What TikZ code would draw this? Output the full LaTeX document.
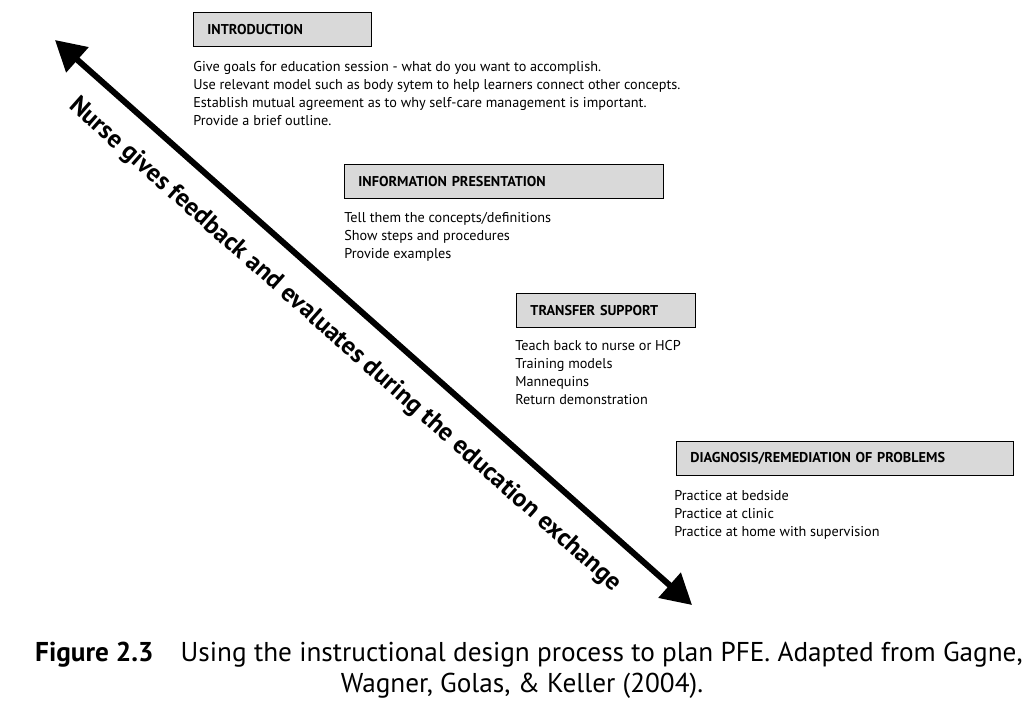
\documentclass[tikz,border=0pt]{standalone}
\usepackage{fontspec}
\setmainfont{PT Sans}
\usetikzlibrary{arrows.meta,positioning}
\definecolor{boxgray}{gray}{0.85}
\tikzset{
  stepbox/.style={draw, fill=boxgray, line width=.5pt, anchor=north west, inner xsep=0.28cm, inner ysep=0pt,
    minimum height=0.68cm, align=left, font=\fontsize{8.1}{9}\selectfont\bfseries},
  steptext/.style={anchor=north west, align=left, inner sep=0pt,
    font=\fontsize{8.1}{10.2}\selectfont}
}
\begin{document}
\begin{tikzpicture}[x=0.02cm, y=-0.02cm]
	\useasboundingbox (0,0) rectangle (1036,704);
	% step boxes
	\node[stepbox, text width=3.0cm] (intro) at (193,12) {INTRODUCTION};
	\node[stepbox, text width=5.82cm] (info) at (344,164) {INFORMATION PRESENTATION};
	\node[stepbox, text width=3.02cm] (transfer) at (516,293) {TRANSFER SUPPORT};
	\node[stepbox, text width=6.18cm] (diag) at (676,441) {DIAGNOSIS/REMEDIATION OF PROBLEMS};
	% lists
	\node[steptext] (introtext) at (193,61) {Give goals for education session - what do you want to accomplish.\\
		Use relevant model such as body sytem to help learners connect other concepts.\\
		Establish mutual agreement as to why self-care management is important.\\
		Provide a brief outline.};
	\node[steptext] (infotext) at (344,212) {Tell them the concepts/definitions\\
		Show steps and procedures\\
		Provide examples};
	\node[steptext] (transfertext) at (515,340) {Teach back to nurse or HCP\\
		Training models\\
		Mannequins\\
		Return demonstration};
	\node[steptext] (diagtext) at (674,490) {Practice at bedside\\
		Practice at clinic\\
		Practice at home with supervision};
	% feedback arrow
	\coordinate (top) at (55,40);
	\coordinate (bottom) at (692,605);
	\draw[line width=1.2mm, {Triangle[length=6mm,width=6.5mm]}-{Triangle[length=6mm,width=6.5mm]}] (top) -- (bottom);
	\node[rotate=-41.6, font=\fontsize{14.5}{16}\selectfont\bfseries] (feedback) at (345,345)
		{Nurse gives feedback and evaluates during the education exchange};
	% caption
	\node[anchor=west, font=\fontsize{15.5}{18}\selectfont] (caption) at (29,655)
		{\textbf{Figure 2.3}\quad Using the instructional design process to plan PFE. Adapted from Gagne,};
	\node[font=\fontsize{15.5}{18}\selectfont] (caption2) at (522,686) {Wagner, Golas, \& Keller (2004).};
\end{tikzpicture}
\end{document}
